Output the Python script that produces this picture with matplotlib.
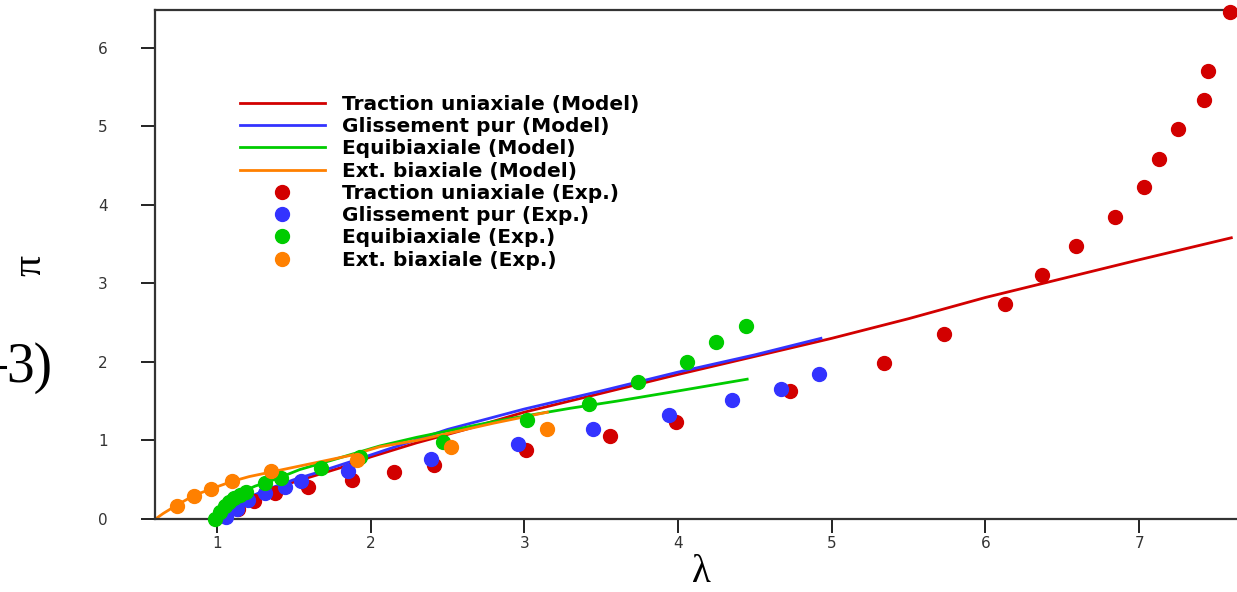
import matplotlib
matplotlib.use("Agg")
from matplotlib import pyplot as plt
from matplotlib.lines import Line2D

# model curves
trac_mod_x = [1.0, 1.05, 1.1, 1.2, 1.3, 1.45, 1.6, 1.8, 2.0, 2.3, 2.6, 3.0, 3.5, 4.0, 4.5, 5.0, 5.5, 6.0, 6.5, 7.0, 7.6]
trac_mod_y = [0.0, 0.08, 0.15, 0.26, 0.34, 0.44, 0.53, 0.65, 0.79, 0.97, 1.13, 1.36, 1.60, 1.84, 2.07, 2.30, 2.55, 2.82, 3.06, 3.30, 3.58]

gliss_mod_x = [1.0, 1.05, 1.1, 1.2, 1.33, 1.5, 1.65, 1.87, 2.1, 2.5, 3.0, 3.5, 4.0, 4.5, 4.93]
gliss_mod_y = [0.0, 0.09, 0.15, 0.27, 0.38, 0.50, 0.59, 0.73, 0.88, 1.14, 1.40, 1.63, 1.87, 2.09, 2.30]

equi_mod_x = [0.99, 1.03, 1.07, 1.12, 1.17, 1.25, 1.33, 1.45, 1.54, 1.75, 2.06, 2.3, 2.55, 2.8, 3.0, 3.3, 3.6, 4.0, 4.45]
equi_mod_y = [0.0, 0.12, 0.20, 0.28, 0.35, 0.42, 0.47, 0.56, 0.63, 0.75, 0.93, 1.04, 1.14, 1.24, 1.31, 1.41, 1.50, 1.63, 1.78]

ext_mod_x = [0.6, 0.65, 0.7, 0.76, 0.85, 1.0, 1.1, 1.21, 1.43, 1.65, 1.87, 2.06, 2.3, 2.55, 2.8, 3.15]
ext_mod_y = [0.0, 0.07, 0.13, 0.20, 0.30, 0.41, 0.48, 0.54, 0.63, 0.72, 0.81, 0.92, 1.00, 1.11, 1.22, 1.36]

# experimental points
trac_exp_x = [1.06, 1.14, 1.24, 1.38, 1.59, 1.88, 2.15, 2.41, 3.01, 3.56, 3.99, 4.73, 5.34, 5.73, 6.13,
              6.37, 6.59, 6.84, 7.03, 7.13, 7.25, 7.42, 7.45, 7.59]
trac_exp_y = [0.05, 0.13, 0.23, 0.33, 0.41, 0.50, 0.60, 0.69, 0.88, 1.06, 1.24, 1.63, 1.98, 2.35, 2.74,
              3.11, 3.48, 3.85, 4.23, 4.58, 4.96, 5.33, 5.70, 6.46]

gliss_exp_x = [1.06, 1.13, 1.20, 1.31, 1.44, 1.55, 1.85, 2.39, 2.96, 3.45, 3.94, 4.35, 4.67, 4.92]
gliss_exp_y = [0.03, 0.13, 0.24, 0.33, 0.41, 0.49, 0.61, 0.77, 0.96, 1.15, 1.32, 1.51, 1.66, 1.84]

equi_exp_x = [0.99, 1.02, 1.05, 1.08, 1.11, 1.15, 1.19, 1.31, 1.42, 1.68, 1.93, 2.47, 3.02, 3.42, 3.74, 4.06, 4.25, 4.44]
equi_exp_y = [0.0, 0.09, 0.16, 0.22, 0.27, 0.31, 0.35, 0.46, 0.52, 0.65, 0.79, 0.98, 1.26, 1.47, 1.74, 2.00, 2.25, 2.46]

ext_exp_x = [0.74, 0.85, 0.96, 1.10, 1.35, 1.91, 2.52, 3.15]
ext_exp_y = [0.17, 0.29, 0.38, 0.49, 0.61, 0.75, 0.92, 1.15]

labels = ["Traction uniaxiale (Model)", "Glissement pur (Model)", "Equibiaxiale (Model)", "Ext. biaxiale (Model)",
          "Traction uniaxiale (Exp.)", "Glissement pur (Exp.)", "Equibiaxiale (Exp.)", "Ext. biaxiale (Exp.)"]

red, blue, green, orange = "#d20000", "#3333ff", "#00cc00", "#ff8000"

fig = plt.figure(figsize=(12.37, 5.92), dpi=100)
ax = fig.add_axes([155 / 1237, 73 / 592, 1 - 155 / 1237, 509 / 592])

h1, = ax.plot(trac_mod_x, trac_mod_y, color=red, lw=2, zorder=2)
h2, = ax.plot(gliss_mod_x, gliss_mod_y, color=blue, lw=2, zorder=2)
h3, = ax.plot(equi_mod_x, equi_mod_y, color=green, lw=2, zorder=2)
h4, = ax.plot(ext_mod_x, ext_mod_y, color=orange, lw=2, zorder=2)

h5, = ax.plot(trac_exp_x, trac_exp_y, "o", color=red, ms=10, zorder=3, clip_on=False)
h6, = ax.plot(gliss_exp_x, gliss_exp_y, "o", color=blue, ms=10, zorder=3, clip_on=False)
h7, = ax.plot(equi_exp_x, equi_exp_y, "o", color=green, ms=10, zorder=3, clip_on=False)
h8, = ax.plot(ext_exp_x, ext_exp_y, "o", color=orange, ms=10, zorder=3, clip_on=False)

ax.set_xlim(0.597, 7.637)
ax.set_ylim(0, 6.48)
ax.set_xticks([1, 2, 3, 4, 5, 6, 7])
ax.set_yticks([0, 1, 2, 3, 4, 5, 6])

for side in ["left", "bottom", "top"]:
    ax.spines[side].set_linewidth(1.6)
    ax.spines[side].set_color("#333333")
ax.spines["right"].set_visible(False)
ax.tick_params(axis="both", direction="out", length=10, width=1.4, color="#222222",
               labelsize=11, labelcolor="#333333")
ax.tick_params(axis="y", pad=24)
ax.tick_params(axis="x", pad=2)

leg = ax.legend([h1, h2, h3, h4, h5, h6, h7, h8], labels, loc="upper left",
                bbox_to_anchor=((240 - 155) / 1082, 0.833), frameon=False, numpoints=1,
                handlelength=4.2, handletextpad=0.85, labelspacing=0.16, borderpad=0,
                borderaxespad=0,
                prop={"family": "DejaVu Sans", "weight": "bold", "size": 14.5})

serif = "Liberation Serif"
fig.text(30 / 1237, 1 - 265 / 592, "\u03c0", rotation=90, ha="center", va="center",
         family=serif, fontsize=30)
fig.text(701 / 1237, 1 - 572 / 592, "\u03bb", ha="center", va="center", family=serif, fontsize=28)
# fragment of an equation cut by the left edge
fig.text(52 / 1237, 1 - 382 / 592, "3)", ha="right", va="baseline", family=serif, fontsize=40)
fig.add_artist(Line2D([0, 5 / 1237], [1 - 367 / 592, 1 - 367 / 592], color="black", lw=2.2,
                      transform=fig.transFigure))

plt.savefig("out.png", dpi=100)
plt.close()
